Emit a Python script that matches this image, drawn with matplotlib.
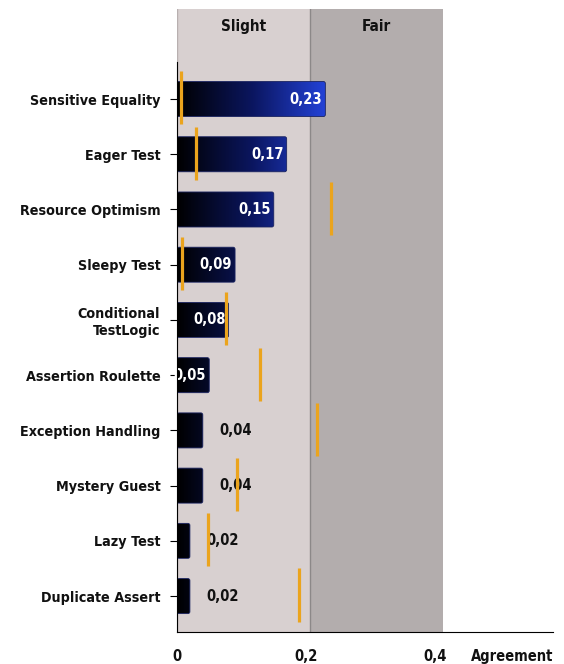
import matplotlib.pyplot as plt
import numpy as np
from matplotlib.patches import FancyBboxPatch
from matplotlib.colors import LinearSegmentedColormap

categories = ["Sensitive Equality", "Eager Test", "Resource Optimism", "Sleepy Test",
              "Conditional\nTestLogic", "Assertion Roulette", "Exception Handling",
              "Mystery Guest", "Lazy Test", "Duplicate Assert"]
agreement = [0.23, 0.17, 0.15, 0.09, 0.08, 0.05, 0.04, 0.04, 0.02, 0.02]
markers = [0.006, 0.029, 0.238, 0.007, 0.076, 0.129, 0.217, 0.093, 0.048, 0.189]
value_labels = ["0,23", "0,17", "0,15", "0,09", "0,08", "0,05", "0,04", "0,04", "0,02", "0,02"]
bands = ["Slight", "Fair"]
band_edges = [0.0, 0.206, 0.412]
band_colors = ["#d8d0d0", "#b3adad"]
xticks = [0, 0.2, 0.4]
xtick_labels = ["0", "0,2", "0,4"]

plt.rcParams['font.family'] = ['DejaVu Sans']
font = dict(fontweight='bold', fontstretch='condensed')

fig = plt.figure(figsize=(5.64, 6.64), dpi=100)
ax = fig.add_axes([177 / 564, 1 - 632 / 664, (553 - 177) / 564, (632 - 9) / 664])

# qualitative bands in the background
for i, name in enumerate(bands):
    ax.axvspan(band_edges[i], band_edges[i + 1], color=band_colors[i], zorder=0, lw=0)
    ax.text((band_edges[i] + band_edges[i + 1]) / 2, -1.31, name, ha='center', va='center',
            fontsize=11, color='#111111', **font)
ax.axvline(band_edges[1], color='#8c8888', lw=1, zorder=1)
ax.axvline(0, color='#b8b0b0', lw=1, zorder=1)

# gradient-filled bars, black near zero going to blue
cmap = LinearSegmentedColormap.from_list('bk_blue', ["#000000", "#0b1660", "#2444dd"])
grad = np.linspace(0, 1, 256).reshape(1, -1)
y = np.arange(len(categories))
h = 0.634
for yi, v in zip(y, agreement):
    box = FancyBboxPatch((0, yi - h / 2), v, h, boxstyle="round,pad=0,rounding_size=0.003",
                         mutation_aspect=12, fc='none', ec='#1a2360', lw=0.6, zorder=3)
    ax.add_patch(box)
    im = ax.imshow(grad, cmap=cmap, aspect='auto', extent=(0, 0.235, yi + h / 2, yi - h / 2),
                   zorder=2, interpolation='bilinear')
    im.set_clip_path(box)

# value labels
for yi, v, lab in zip(y, agreement, value_labels):
    if v >= 0.05:
        ax.text(v - 0.005, yi, lab, ha='right', va='center', color='white', fontsize=10.5, **font)
    else:
        ax.text(v + 0.026, yi, lab, ha='left', va='center', color='#111111', fontsize=10.5, **font)

# orange reference markers
ax.vlines(markers, y - 0.5, y + 0.46, color='#eba41d', lw=2.3, zorder=4)

ax.set_xlim(0, (553 - 177) / 645)
ax.set_ylim(9.65, -1.63)

for s in ['top', 'right']:
    ax.spines[s].set_visible(False)
ax.spines['left'].set_bounds(-0.67, 9.65)
ax.spines['left'].set_zorder(5)
ax.spines['bottom'].set_zorder(5)

ax.set_yticks(y)
ax.set_yticklabels(categories, fontsize=10.3, color='#111111', **font)
ax.set_xticks(xticks)
ax.set_xticklabels(xtick_labels, fontsize=10.5, color='#111111', **font)
ax.tick_params(axis='y', length=5, width=0.8, pad=7)
ax.tick_params(axis='x', length=0, pad=12)
fig.text(553 / 564, 1 - 656 / 664, "Agreement", ha='right', va='center', fontsize=10.5,
         color='#111111', **font)

fig.savefig("out.png", dpi=100)
